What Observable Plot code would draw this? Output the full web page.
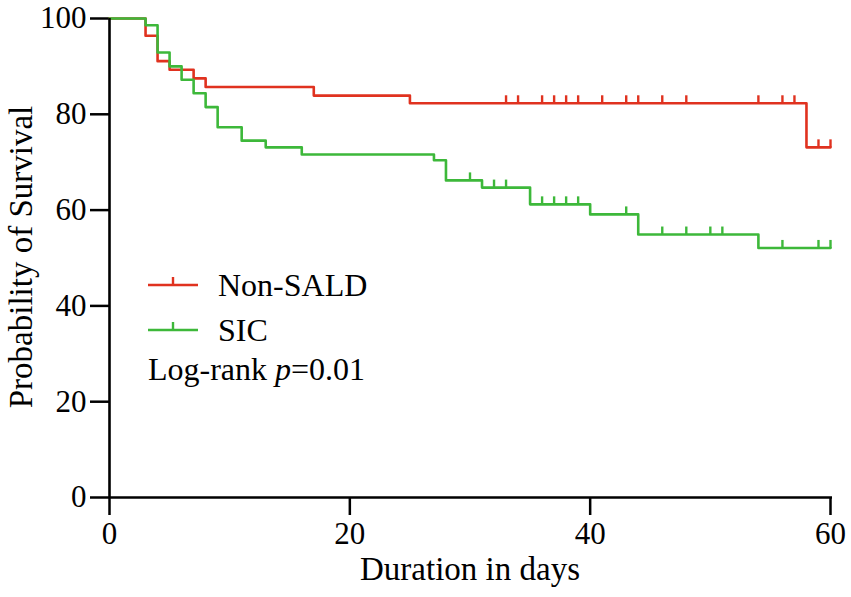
<!DOCTYPE html>
<html>
<head>
<meta charset="utf-8">
<script src="https://cdn.jsdelivr.net/npm/d3@7"></script>
<script src="https://cdn.jsdelivr.net/npm/@observablehq/plot@0.6"></script>
<style>
  html, body { margin: 0; padding: 0; background: #fff; }
</style>
</head>
<body>
<div id="chart"></div>
<script>
// ---- data ----
const groups = ["Non-SALD", "SIC"];
const colors = ["#e0321f", "#3db83a"];

const nonSaldTimes = [0, 3, 4, 5, 7, 8, 17, 25, 58];
const nonSaldSurv  = [100, 96.4, 91.1, 89.3, 87.5, 85.7, 83.9, 82.3, 73.1];
const nonSaldCensor = [33, 34, 36, 37, 38, 39, 41, 43, 44, 46, 48, 54, 56, 57, 59, 60];

const sicTimes = [0, 3, 4, 5, 6, 7, 8, 9, 11, 13, 16, 27, 28, 31, 35, 40, 44, 54];
const sicSurv  = [100, 98.6, 92.9, 90.0, 87.2, 84.4, 81.5, 77.3, 74.5, 73.1, 71.6, 70.4, 66.2, 64.7, 61.2, 59.1, 54.9, 52.1];
const sicCensor = [30, 32, 33, 36, 37, 38, 39, 43, 46, 48, 50, 51, 56, 59, 60];

const xTicks = [0, 20, 40, 60];
const yTicks = [0, 20, 40, 60, 80, 100];

// ---- build tables ----
function survAt(times, surv, t) {
  let s = surv[0];
  for (let i = 0; i < times.length; i++) if (times[i] <= t) s = surv[i];
  return s;
}
function steps(name, times, surv, censor) {
  const pts = times.map((t, i) => ({group: name, t, s: surv[i]}));
  const end = d3.max(censor);
  pts.push({group: name, t: end, s: survAt(times, surv, end)});
  return pts;
}
function cens(name, times, surv, censor) {
  return censor.map(t => ({group: name, t, s: survAt(times, surv, t)}));
}
const lineData = [
  ...steps(groups[0], nonSaldTimes, nonSaldSurv, nonSaldCensor),
  ...steps(groups[1], sicTimes, sicSurv, sicCensor)
];
const censorData = [
  ...cens(groups[0], nonSaldTimes, nonSaldSurv, nonSaldCensor),
  ...cens(groups[1], sicTimes, sicSurv, sicCensor)
];

const tickLen = 8;
const censorSymbol = { draw(ctx) { ctx.moveTo(0, 0); ctx.lineTo(0, -tickLen); } };

const FAM = "'Liberation Serif'";
const BASE = 20; // render glyphs at 20px and scale up

const chart = Plot.plot({
  width: 851, height: 597,
  marginLeft: 109, marginRight: 21, marginTop: 18, marginBottom: 100,
  style: { background: "#fff", overflow: "visible" },
  x: { domain: [0, 60] },
  y: { domain: [0, 100] },
  color: { domain: groups, range: colors },
  marks: [
    Plot.axisX({ ticks: xTicks, tickSize: 18, tickPadding: 6, strokeWidth: 2.5, fontSize: 31, fill: "#000", stroke: "#000", label: null }),
    Plot.axisY({ ticks: yTicks, tickSize: 19, tickPadding: 4, strokeWidth: 2.5, fontSize: 31, fill: "#000", stroke: "#000", label: null }),
    Plot.line(lineData, { x: "t", y: "s", z: "group", stroke: "group", curve: "step-after", strokeWidth: 2.6 }),
    Plot.dot(censorData, { x: "t", y: "s", stroke: "group", symbol: censorSymbol, r: 4, fill: "none", strokeWidth: 2.4 }),
    Plot.ruleY([0], { stroke: "#000", strokeWidth: 2.6, insetRight: -2 }),
    Plot.ruleX([0], { stroke: "#000", strokeWidth: 2.6 })
  ]
});

const svg = d3.select(chart);

// scale Plot's tick labels: glyphs at BASE px, enlarged by transform
svg.selectAll("text").each(function() {
  const el = this;
  const size = parseFloat(getComputedStyle(el).fontSize) || parseFloat(el.closest("[font-size]")?.getAttribute("font-size")) || 31;
  const gs = parseFloat(el.parentNode.getAttribute("font-size")) || size;
  const s = gs || 31;
  const ax = el.getAttribute("x"), ay = el.getAttribute("y");
  let tx = 0, ty = 0;
  if (ax !== null && /^-?[\d.]+$/.test(ax)) { tx = +ax; el.removeAttribute("x"); }
  if (ay !== null && /^-?[\d.]+$/.test(ay)) { ty = +ay; el.removeAttribute("y"); }
  const t = el.getAttribute("transform") || "";
  el.setAttribute("transform", `${t} translate(${tx},${ty}) scale(${s / BASE})`);
  el.setAttribute("font-size", BASE);
  el.style.fontFamily = FAM;
});

function label(parent, x, y, size, anchor, extra = "") {
  return parent.append("text")
    .attr("transform", `translate(${x},${y}) ${extra} scale(${size / BASE})`)
    .attr("text-anchor", anchor)
    .attr("font-size", BASE)
    .attr("fill", "#000")
    .style("font-family", FAM);
}

// axis titles
label(svg, 470, 580, 33, "middle").text("Duration in days");
label(svg, 32, 257, 33, "middle", "rotate(-90)").text("Probability of Survival");

// legend
const lg = svg.append("g");
[285, 330].forEach((y, i) => {
  lg.append("line").attr("x1", 148).attr("x2", 198).attr("y1", y).attr("y2", y)
    .attr("stroke", colors[i]).attr("stroke-width", 2.5);
  lg.append("line").attr("x1", 173).attr("x2", 173).attr("y1", y).attr("y2", y - tickLen)
    .attr("stroke", colors[i]).attr("stroke-width", 2.4);
  label(lg, 218, y + 11, 32, "start").text(groups[i]);
});
const pt = label(lg, 148, 380, 32, "start");
pt.append("tspan").text("Log-rank ");
pt.append("tspan").attr("font-style", "italic").text("p");
pt.append("tspan").text("=0.01");

document.getElementById("chart").appendChild(chart);
</script>
</body>
</html>
